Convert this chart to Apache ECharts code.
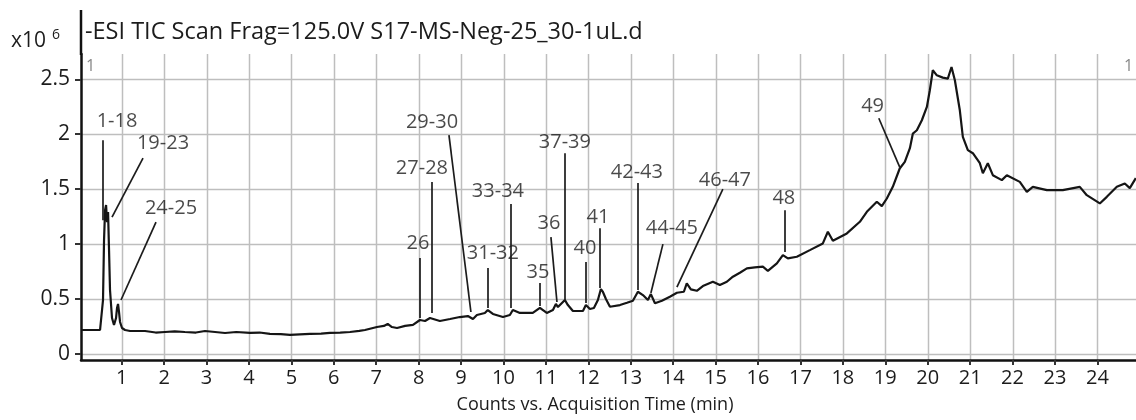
<!DOCTYPE html>
<html><head><meta charset="utf-8">
<script src="https://cdn.jsdelivr.net/npm/echarts@6/dist/echarts.min.js"></script>
<style>html,body{margin:0;padding:0;background:#fff}#c{width:1136px;height:420px}</style>
</head><body><div id="c"></div>
<script>
// Acquisition time (min)
const times = [0.064,0.489,0.512,0.559,0.583,0.607,0.631,0.654,0.678,0.701,0.724,0.771,0.818,0.842,0.866,0.889,0.913,0.936,0.96,1.007,1.078,1.196,1.549,1.8,2.02,2.25,2.49,2.75,2.963,3.2,3.435,3.7,4.024,4.25,4.495,4.75,4.967,5.2,5.438,5.7,5.909,6.15,6.381,6.6,6.734,7.017,7.18,7.27,7.37,7.49,7.68,7.865,8.03,8.15,8.267,8.5,8.74,8.97,9.16,9.28,9.373,9.56,9.63,9.75,9.987,10.15,10.22,10.387,10.69,10.858,11.02,11.165,11.235,11.283,11.377,11.447,11.518,11.636,11.872,11.942,12.037,12.131,12.225,12.296,12.344,12.414,12.509,12.745,12.91,13.05,13.168,13.286,13.404,13.474,13.57,13.734,13.922,14.088,14.252,14.32,14.417,14.557,14.7,14.936,15.1,15.265,15.407,15.572,15.737,15.925,16.114,16.232,16.444,16.586,16.703,16.915,17.222,17.528,17.646,17.764,18.094,18.4,18.565,18.8,18.918,19.036,19.177,19.34,19.46,19.58,19.65,19.744,19.862,19.98,20.05,20.12,20.215,20.356,20.474,20.561,20.64,20.757,20.828,20.946,21.064,21.229,21.3,21.417,21.535,21.747,21.865,22.171,22.336,22.478,22.808,23.185,23.585,23.75,24.057,24.222,24.458,24.646,24.764,24.906];
// Counts (x10^6)
const counts = [0.218,0.218,0.227,0.491,1.036,1.309,1.355,1.2,1.291,0.945,0.582,0.327,0.264,0.255,0.327,0.418,0.455,0.382,0.291,0.236,0.218,0.209,0.209,0.195,0.2,0.205,0.2,0.195,0.209,0.2,0.191,0.2,0.191,0.195,0.182,0.18,0.173,0.178,0.182,0.185,0.191,0.195,0.2,0.21,0.218,0.245,0.255,0.273,0.245,0.236,0.255,0.264,0.309,0.3,0.327,0.3,0.318,0.336,0.345,0.318,0.355,0.373,0.4,0.364,0.336,0.355,0.4,0.373,0.373,0.42,0.373,0.4,0.455,0.427,0.464,0.491,0.445,0.391,0.391,0.445,0.409,0.418,0.491,0.591,0.564,0.5,0.43,0.445,0.466,0.485,0.566,0.536,0.491,0.545,0.461,0.485,0.521,0.557,0.566,0.643,0.588,0.575,0.618,0.657,0.627,0.657,0.703,0.739,0.779,0.788,0.794,0.757,0.825,0.9,0.87,0.885,0.945,1.006,1.112,1.03,1.097,1.203,1.294,1.385,1.345,1.415,1.521,1.688,1.748,1.873,2.006,2.036,2.127,2.248,2.4,2.582,2.536,2.515,2.506,2.612,2.491,2.218,1.975,1.855,1.827,1.736,1.645,1.736,1.627,1.582,1.627,1.566,1.475,1.521,1.491,1.491,1.521,1.445,1.37,1.43,1.521,1.552,1.509,1.6];

// Peak annotations
const annLabels = ['1-18','19-23','24-25','26','27-28','29-30','31-32','33-34','35','36','37-39','40','41','42-43','44-45','46-47','48','49'];
const annTextT  = [0.889,1.973,2.162,7.983,8.077,8.314,9.75,9.868,10.812,11.07,11.447,11.92,12.225,13.144,13.969,15.219,16.609,18.7];
const annTextV  = [2.118,1.918,1.327,1.009,1.691,2.109,0.918,1.482,0.745,1.191,1.927,0.964,1.245,1.655,1.145,1.582,1.418,2.255];
const annFromT  = [0.559,1.502,1.808,8.03,8.314,8.714,9.633,10.175,10.858,11.118,11.447,11.942,12.272,13.168,13.758,15.171,16.632,18.847];
const annFromV  = [1.945,1.782,1.2,0.873,1.564,1.991,0.782,1.364,0.645,1.064,1.827,0.836,1.145,1.555,1.0,1.5,1.309,2.145];
const annToT    = [0.559,0.771,0.983,8.03,8.314,9.232,9.633,10.175,10.858,11.26,11.447,11.942,12.272,13.168,13.474,14.088,16.632,19.34];
const annToV    = [1.218,1.245,0.491,0.327,0.373,0.382,0.418,0.418,0.436,0.473,0.491,0.464,0.6,0.582,0.555,0.609,0.927,1.7];

const xTicks = [1,2,3,4,5,6,7,8,9,10,11,12,13,14,15,16,17,18,19,20,21,22,23,24];
const yTicks = [0,0.5,1,1.5,2,2.5];
const yTickLabels = ['0','0.5','1','1.5','2','2.5'];

const titleText = '-ESI TIC Scan Frag=125.0V S17-MS-Neg-25_30-1uL.d';
const xAxisTitle = 'Counts vs. Acquisition Time (min)';

const FONT = 'Open Sans';
const TXT = '#1c1c1c';
const GRIDC = '#bebebe';
const chart = echarts.init(document.getElementById('c'), null, {renderer: 'canvas'});
const option = {
  animation: false,
  backgroundColor: '#fff',
  grid: {left: 81, right: 0, top: 54, bottom: 60},
  xAxis: {
    type: 'value', min: 0.04, max: 24.91,
    axisLine: {show: true, onZero: false, lineStyle: {color: '#111', width: 2.5}},
    axisTick: {show: true, customValues: xTicks, length: 5, lineStyle: {color: '#333', width: 2}},
    axisLabel: {customValues: xTicks, color: TXT, fontSize: 20, fontFamily: FONT, margin: 8},
    splitLine: {show: false}
  },
  yAxis: {
    type: 'value', min: -0.055, max: 2.73,
    axisLine: {show: true, onZero: false, lineStyle: {color: '#111', width: 2.5}},
    axisTick: {show: true, customValues: yTicks, length: 6, lineStyle: {color: '#333', width: 2}},
    axisLabel: {customValues: yTicks, color: TXT, fontSize: 21, fontFamily: FONT, margin: 11,
      formatter: v => { const i = yTicks.indexOf(v); return i >= 0 ? yTickLabels[i] : ''; }},
    splitLine: {show: false}
  },
  graphic: [
    {type: 'line', shape: {x1: 81, y1: 10, x2: 81, y2: 55}, style: {stroke: '#111', lineWidth: 2.5}},
    {type: 'text', left: 85, top: 20, style: {text: titleText, fill: TXT, font: '23.5px "Open Sans"'}},
    {type: 'text', left: 11, top: 31, style: {text: 'x10', fill: TXT, font: '21px "Open Sans"'}},
    {type: 'text', left: 52, top: 28, style: {text: '6', fill: TXT, font: '14px "Open Sans"'}},
    {type: 'text', left: 86, top: 58, style: {text: '1', fill: '#888', font: '16px "Open Sans"'}},
    {type: 'text', left: 1124, top: 58, style: {text: '1', fill: '#888', font: '16px "Open Sans"'}},
    {type: 'text', x: 595, y: 405, style: {text: xAxisTitle, fill: TXT, font: '18px "Open Sans"', textAlign: 'center', textVerticalAlign: 'middle'}}
  ],
  series: [
    {
      type: 'custom', z: 0, silent: true,
      data: yTicks.map(v => [1, v]),
      renderItem: (params, api) => {
        const cs = params.coordSys;
        const y = Math.round(api.coord([1, api.value(1)])[1]) + 0.5;
        return {type: 'line', shape: {x1: cs.x, y1: y, x2: cs.x + cs.width, y2: y},
          style: {stroke: GRIDC, lineWidth: 1.5}};
      }
    },
    {
      type: 'custom', z: 0, silent: true,
      data: xTicks.map(t => [t, 0]),
      renderItem: (params, api) => {
        const cs = params.coordSys;
        const x = Math.round(api.coord([api.value(0), 0])[0]) + 0.5;
        return {type: 'line', shape: {x1: x, y1: cs.y, x2: x, y2: cs.y + cs.height},
          style: {stroke: GRIDC, lineWidth: 1.5}};
      }
    },
    {
      type: 'line', z: 3,
      data: times.map((t, i) => [t, counts[i]]),
      showSymbol: false, symbol: 'none',
      lineStyle: {color: '#151515', width: 2.2},
      markLine: {
        silent: true, symbol: ['none', 'none'], label: {show: false},
        lineStyle: {color: '#1c1c1c', width: 1.7, type: 'solid'},
        data: annLabels.map((n, i) => [{coord: [annFromT[i], annFromV[i]]}, {coord: [annToT[i], annToV[i]]}])
      }
    },
    {
      type: 'scatter', z: 4, symbolSize: 0, silent: true,
      data: annLabels.map((n, i) => [annTextT[i], annTextV[i], n]),
      label: {show: true, position: 'inside', formatter: p => p.data[2], color: TXT, fontSize: 20, fontFamily: FONT}
    }
  ]
};
chart.setOption(option);
</script></body></html>
